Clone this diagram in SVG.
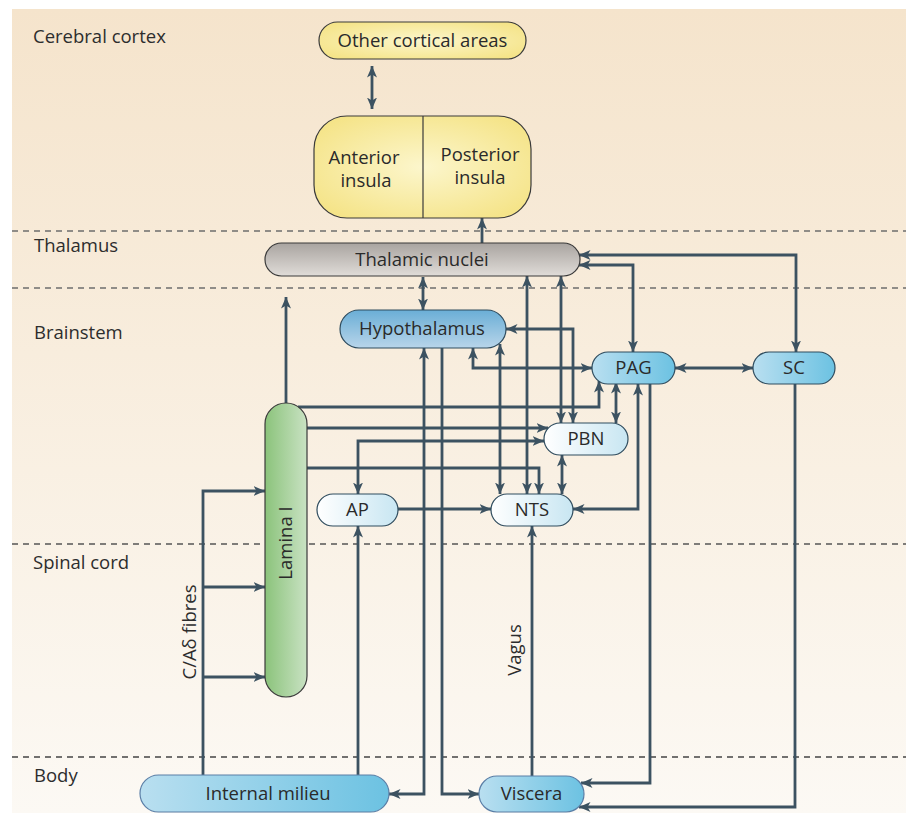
<svg xmlns="http://www.w3.org/2000/svg" width="908" height="813" viewBox="0 0 908 813">
<defs>
<linearGradient id="bg" x1="0" y1="0" x2="0" y2="1">
<stop offset="0" stop-color="#f5e4cc"/>
<stop offset="1" stop-color="#fcf9f4"/>
</linearGradient>
<radialGradient id="yel" cx="0.5" cy="0.5" r="0.6">
<stop offset="0" stop-color="#fcf6cc"/>
<stop offset="1" stop-color="#f5e489"/>
</radialGradient>
<linearGradient id="gray" x1="0" y1="0" x2="0" y2="1">
<stop offset="0" stop-color="#a9a4a0"/>
<stop offset="1" stop-color="#e0dcd8"/>
</linearGradient>
<linearGradient id="hypo" x1="0" y1="0" x2="0" y2="1">
<stop offset="0" stop-color="#6aaed6"/>
<stop offset="1" stop-color="#b8d5ea"/>
</linearGradient>
<linearGradient id="mid" x1="0" y1="0" x2="1" y2="0">
<stop offset="0" stop-color="#b9dff0"/>
<stop offset="1" stop-color="#6cc2e2"/>
</linearGradient>
<linearGradient id="light" x1="0" y1="0" x2="1" y2="0">
<stop offset="0" stop-color="#ffffff"/>
<stop offset="1" stop-color="#c8e6f2"/>
</linearGradient>
<linearGradient id="green" x1="0" y1="0" x2="1" y2="0">
<stop offset="0" stop-color="#8bc37b"/>
<stop offset="1" stop-color="#c9e2c3"/>
</linearGradient>
<marker id="ah" markerUnits="userSpaceOnUse" markerWidth="12" markerHeight="11" viewBox="0 0 12 11" refX="11.5" refY="5.5" orient="auto-start-reverse">
<path d="M0,0.5 L11.5,5.5 L0,10.5 L3,5.5 z" fill="#3c5261"/>
</marker>
<style>
.lbl{font-family:"Open Sans","Noto Sans","Liberation Sans",sans-serif;font-size:18.5px;fill:#2d2d2d}
.nt{font-family:"Open Sans","Noto Sans","Liberation Sans",sans-serif;font-size:18.5px;fill:#2a2a2a;text-anchor:middle}
.dash{stroke:#6e6e6e;stroke-width:1.3;stroke-dasharray:6,5;fill:none}
.c{fill:none;stroke:#3c5261;stroke-width:2.8}
.e{marker-end:url(#ah)}
.b{marker-start:url(#ah);marker-end:url(#ah)}
.box{stroke:#3a3a3a;stroke-width:1.2}
.bbox{stroke:#2f4c5e;stroke-width:1.2}
.mbox{stroke:#5a7ea6;stroke-width:1.2}
</style>
</defs>
<rect x="12" y="9" width="894" height="804" fill="url(#bg)"/>
<g id="dividers">
<line class="dash" x1="12" y1="231" x2="906" y2="231"/>
<line class="dash" x1="12" y1="288" x2="906" y2="288"/>
<line class="dash" x1="12" y1="544" x2="906" y2="544" style="stroke:#555"/>
<line class="dash" x1="12" y1="757" x2="906" y2="757" style="stroke:#444"/>
</g>
<g id="section-labels">
<text class="lbl" x="33" y="43">Cerebral cortex</text>
<text class="lbl" x="34" y="252">Thalamus</text>
<text class="lbl" x="34" y="339">Brainstem</text>
<text class="lbl" x="33" y="569">Spinal cord</text>
<text class="lbl" x="34" y="782">Body</text>
</g>
<g id="connectors">
<path class="c b" d="M372,66 V109"/>
<path class="c e" d="M444,169 H404"/>
<path class="c e" d="M482,243 V218"/>
<path class="c b" d="M423,277 V310"/>
<path class="c e" d="M286,403 V297"/>
<path class="c b" d="M424,348 V794 H389"/>
<path class="c e" d="M442,348 V794 H479"/>
<path class="c b" d="M473,348 V368 H592"/>
<path class="c b" d="M500,344 V494"/>
<path class="c b" d="M506,329 H573 V423"/>
<path class="c b" d="M527,276 V494"/>
<path class="c b" d="M561,276 V423"/>
<path class="c b" d="M579,265 H633 V352"/>
<path class="c b" d="M579,255 H796 V352"/>
<path class="c b" d="M675,368 H753"/>
<path class="c e" d="M298,407 H599 V381"/>
<path class="c e" d="M307,428 H548"/>
<path class="c b" d="M358,494 V441 H544"/>
<path class="c e" d="M307,468 H539 V494"/>
<path class="c b" d="M562,455 V494"/>
<path class="c b" d="M616,382 V423"/>
<path class="c e" d="M398,509 H491"/>
<path class="c b" d="M638,384 V509 H573"/>
<path class="c e" d="M650,384 V783 H581"/>
<path class="c e" d="M795,384 V807 H579"/>
<path class="c e" d="M532,776 V526"/>
<path class="c e" d="M358,775 V526"/>
<path class="c e" d="M203,775 V491 H265"/>
<path class="c e" d="M203,587 H265"/>
<path class="c e" d="M203,677 H265"/>
</g>
<g id="connector-labels">
<text class="lbl" transform="translate(196,632) rotate(-90)" text-anchor="middle">C/Aδ fibres</text>
<text class="lbl" transform="translate(521,650) rotate(-90)" text-anchor="middle">Vagus</text>
</g>
<g id="other-cortical-areas">
<rect class="box" x="319" y="22" width="207" height="37" rx="18.5" fill="url(#yel)"/>
<text class="nt" x="422.5" y="47">Other cortical areas</text>
</g>
<g id="insula">
<rect class="box" x="314" y="116" width="217" height="102" rx="33" fill="url(#yel)"/>
<line x1="423" y1="116" x2="423" y2="218" stroke="#3a3a3a" stroke-width="1.2"/>
<text class="nt" x="364" y="164">Anterior</text>
<text class="nt" x="366" y="187">insula</text>
<text class="nt" x="480" y="161">Posterior</text>
<text class="nt" x="480" y="184">insula</text>
</g>
<g id="thalamic-nuclei">
<rect class="box" x="265" y="243" width="315" height="33" rx="16.5" fill="url(#gray)"/>
<text class="nt" x="422" y="266">Thalamic nuclei</text>
</g>
<g id="hypothalamus">
<rect class="bbox" x="340" y="310" width="166" height="38" rx="19" fill="url(#hypo)"/>
<text class="nt" x="422" y="335">Hypothalamus</text>
</g>
<g id="pag">
<rect class="bbox" x="592" y="352" width="83" height="32" rx="16" fill="url(#mid)"/>
<text class="nt" x="633.5" y="374">PAG</text>
</g>
<g id="sc">
<rect class="bbox" x="753" y="352" width="82" height="32" rx="16" fill="url(#mid)"/>
<text class="nt" x="794" y="374">SC</text>
</g>
<g id="pbn">
<rect class="bbox" x="544" y="423" width="84" height="32" rx="16" fill="url(#light)"/>
<text class="nt" x="586" y="445">PBN</text>
</g>
<g id="ap">
<rect class="bbox" x="317" y="494" width="81" height="32" rx="16" fill="url(#light)"/>
<text class="nt" x="357.5" y="516">AP</text>
</g>
<g id="nts">
<rect class="bbox" x="491" y="494" width="82" height="32" rx="16" fill="url(#light)"/>
<text class="nt" x="532" y="516">NTS</text>
</g>
<g id="lamina-i">
<rect class="box" x="265" y="403" width="42" height="294" rx="21" fill="url(#green)"/>
<text class="nt" transform="translate(292,543) rotate(-90)">Lamina I</text>
</g>
<g id="internal-milieu">
<rect class="mbox" x="140" y="775" width="249" height="37" rx="18.5" fill="url(#mid)"/>
<text class="nt" x="268" y="800">Internal milieu</text>
</g>
<g id="viscera">
<rect class="mbox" x="479" y="776" width="105" height="36" rx="18" fill="url(#mid)"/>
<text class="nt" x="531.5" y="800">Viscera</text>
</g>
</svg>
